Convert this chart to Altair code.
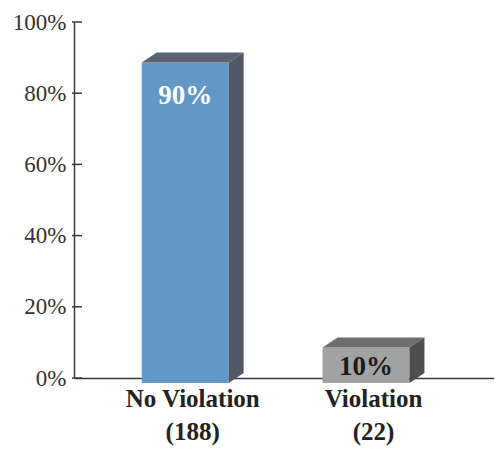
import altair as alt
import pandas as pd

# ---- data ----
categories = ["No Violation", "Violation"]
counts = [188, 22]
percents = [90, 10]

# ---- styling (positions in scale units, colours) ----
centers = [0.65, 1.64]      # bar centre (incl. depth) on the x scale
W = 0.476                    # front face width
DX = 0.082                   # depth in x
DY = 1.4                     # half depth in y (percent units)
front_colors = ["#6398C6", "#A2A2A2"]
top_colors = ["#5B6571", "#6E6E6E"]
side_colors = ["#4F5864", "#4E4E4E"]
FONT = "Liberation Serif"

front = pd.DataFrame({
    "cat": categories,
    "xl": [c - (W + DX) / 2 for c in centers],
    "xr": [c - (W + DX) / 2 + W for c in centers],
    "y0": [-DY for _ in percents],
    "y1": [p - DY for p in percents],
    "xm": [c - DX / 2 for c in centers],
    "pct": percents,
    "txt": [f"{p}%" for p in percents],
})
top_rows, side_rows = [], []
for cat, c, p in zip(categories, centers, percents):
    xl = c - (W + DX) / 2
    xr = xl + W
    top_rows.append({"cat": cat, "y": p - DY, "xa": xl, "xb": xr})
    top_rows.append({"cat": cat, "y": p + DY, "xa": xl + DX, "xb": xr + DX})
    side_rows.append({"cat": cat, "x": xr, "ya": -DY, "yb": p - DY})
    side_rows.append({"cat": cat, "x": xr + DX, "ya": DY, "yb": p + DY})
top = pd.DataFrame(top_rows)
side = pd.DataFrame(side_rows)
labels = pd.DataFrame({
    "cat": categories,
    "x": centers,
    "lab": [f"{c}\n({n})" for c, n in zip(categories, counts)],
})
ticks = pd.DataFrame({"v": [0, 20, 40, 60, 80, 100]})

xscale = alt.Scale(domain=[0, 2.3], nice=False, zero=False)
yscale = alt.Scale(domain=[0, 100], nice=False, zero=False)
xaxis = alt.Axis(labels=False, ticks=False, grid=False, title=None, domain=True,
                 orient="bottom", domainColor="#3a3a3a", domainWidth=1.5)
yaxis = alt.Axis(values=[0, 20, 40, 60, 80, 100], labelExpr="datum.value + '%'",
                 ticks=False, grid=False, title=None, domain=True, orient="left",
                 domainColor="#3a3a3a", domainWidth=1.5, labelPadding=8,
                 labelFont=FONT, labelFontSize=23, labelColor="#333333")


def fill(colors):
    return alt.Fill("cat:N", scale=alt.Scale(domain=categories, range=colors), legend=None)


front_layer = alt.Chart(front).mark_rect().encode(
    x=alt.X("xl:Q", scale=xscale, axis=xaxis),
    x2="xr:Q",
    y=alt.Y("y0:Q", scale=yscale, axis=yaxis),
    y2="y1:Q",
    fill=fill(front_colors),
)
top_layer = alt.Chart(top).mark_area(orient="horizontal").encode(
    y=alt.Y("y:Q", scale=yscale, axis=yaxis),
    x=alt.X("xa:Q", scale=xscale, axis=xaxis),
    x2="xb:Q",
    fill=fill(top_colors),
)
side_layer = alt.Chart(side).mark_area(orient="vertical").encode(
    x=alt.X("x:Q", scale=xscale, axis=xaxis),
    y=alt.Y("ya:Q", scale=yscale, axis=yaxis),
    y2="yb:Q",
    fill=fill(side_colors),
)
tick_layer = alt.Chart(ticks).mark_rule(color="#3a3a3a", strokeWidth=1.5).encode(
    y=alt.Y("v:Q", scale=yscale, axis=yaxis),
    x=alt.value(-2),
    x2=alt.value(8),
)
val_big = alt.Chart(front).transform_filter(alt.datum.pct > 50).mark_text(
    font=FONT, fontSize=27, fontWeight="bold", color="white", baseline="alphabetic", dy=41
).encode(
    x=alt.X("xm:Q", scale=xscale, axis=xaxis),
    y=alt.Y("y1:Q", scale=yscale, axis=yaxis),
    text="txt:N",
)
val_small = alt.Chart(front).transform_filter(alt.datum.pct <= 50).mark_text(
    font=FONT, fontSize=27, fontWeight="bold", color="#1a1a1a", baseline="alphabetic", dy=28
).encode(
    x=alt.X("xm:Q", scale=xscale, axis=xaxis),
    y=alt.Y("y1:Q", scale=yscale, axis=yaxis),
    text="txt:N",
)
cat_labels = alt.Chart(labels).mark_text(
    font=FONT, fontSize=25, fontWeight="bold", color="#222222", baseline="alphabetic",
    lineBreak="\n", lineHeight=33, dy=29
).encode(
    x=alt.X("x:Q", scale=xscale, axis=xaxis),
    y=alt.Y(datum=0, scale=yscale, axis=yaxis),
    text="lab:N",
)

chart = alt.layer(
    front_layer, top_layer, side_layer, tick_layer, val_big, val_small, cat_labels
).resolve_scale(fill="independent").properties(
    width=420, height=356,
    background="white",
    autosize=alt.AutoSizeParams(type="none"),
    padding={"left": 66, "top": 14, "right": 0, "bottom": 72},
).configure_view(strokeWidth=0, stroke="transparent")

chart.save("out.html", embed_options={"renderer": "svg", "actions": False})
